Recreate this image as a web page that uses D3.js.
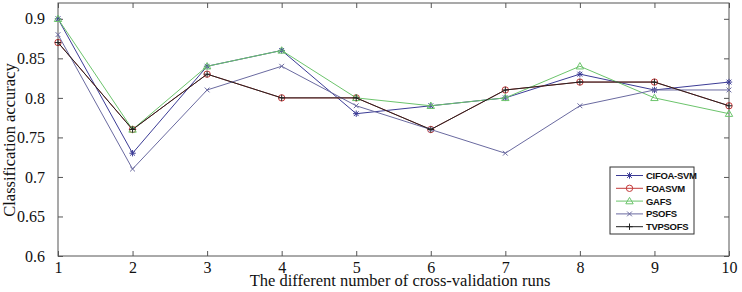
<!DOCTYPE html>
<html>
<head>
<meta charset="utf-8">
<script src="https://cdn.jsdelivr.net/npm/d3@7"></script>
<style>
body { margin: 0; background: #fff; }
</style>
</head>
<body>
<script>
// cross-validation runs
var runs = [1, 2, 3, 4, 5, 6, 7, 8, 9, 10];
var yTicks = [0.6, 0.65, 0.7, 0.75, 0.8, 0.85, 0.9];

var cifoaSvm = [0.90, 0.73, 0.84, 0.86, 0.78, 0.79, 0.80, 0.83, 0.81, 0.82];
var foaSvm   = [0.87, 0.76, 0.83, 0.80, 0.80, 0.76, 0.81, 0.82, 0.82, 0.79];
var gafs     = [0.90, 0.76, 0.84, 0.86, 0.80, 0.79, 0.80, 0.84, 0.80, 0.78];
var psofs    = [0.88, 0.71, 0.81, 0.84, 0.79, 0.76, 0.73, 0.79, 0.81, 0.81];
var tvpsofs  = [0.87, 0.76, 0.83, 0.80, 0.80, 0.76, 0.81, 0.82, 0.82, 0.79];

var seriesNames = ["CIFOA-SVM", "FOASVM", "GAFS", "PSOFS", "TVPSOFS"];

function init(){
    var W = 742, H = 292;
    var left = 58, right = 729, top = 3, bottom = 256;

    var series = [
        {name: seriesNames[0], values: cifoaSvm, color: "#3c3c96", marker: "star"},
        {name: seriesNames[1], values: foaSvm,   color: "#c43a3a", marker: "circle"},
        {name: seriesNames[2], values: gafs,     color: "#6cc46c", marker: "triangle"},
        {name: seriesNames[3], values: psofs,    color: "#6a6aa0", marker: "x"},
        {name: seriesNames[4], values: tvpsofs,  color: "#222222", marker: "plus"}
    ];

    var svg = d3.select("body").append("svg")
        .attr("width", W)
        .attr("height", H);

    var xScale = d3.scaleLinear().domain([1, 10]).range([left, right]);
    var yScale = d3.scaleLinear().domain([0.6, 0.92]).range([bottom, top]);

    // frame
    svg.append("rect")
        .attr("x", left).attr("y", top)
        .attr("width", right - left).attr("height", bottom - top)
        .attr("fill", "none").attr("stroke", "#555").attr("stroke-width", 1);

    var fmt = function(d){ return String(+d.toFixed(2)); };

    // axes with inward ticks
    var xAxis = d3.axisBottom(xScale).tickValues(runs).tickSize(-5).tickPadding(6).tickFormat(d3.format("d"));
    var xTop = d3.axisTop(xScale).tickValues(runs).tickSize(-5).tickFormat("");
    var yAxis = d3.axisLeft(yScale).tickValues(yTicks).tickSize(-5).tickPadding(13).tickFormat(fmt);
    var yRight = d3.axisRight(yScale).tickValues(yTicks).tickSize(-5).tickFormat("");

    function styleAxis(g){
        g.select(".domain").remove();
        g.selectAll(".tick line").attr("stroke", "#555");
        g.selectAll("text")
            .attr("font-family", "'Liberation Serif', 'Times New Roman', serif")
            .attr("font-size", "16px")
            .attr("fill", "#111");
    }

    svg.append("g").attr("transform", "translate(0," + bottom + ")").call(xAxis).call(styleAxis);
    svg.append("g").attr("transform", "translate(0," + top + ")").call(xTop).call(styleAxis);
    svg.append("g").attr("transform", "translate(" + left + ",0)").call(yAxis).call(styleAxis);
    svg.append("g").attr("transform", "translate(" + right + ",0)").call(yRight).call(styleAxis);

    // axis titles
    svg.append("text")
        .attr("x", 400).attr("y", 286)
        .attr("text-anchor", "middle")
        .attr("font-family", "'Liberation Serif', 'Times New Roman', serif")
        .attr("font-size", "16.5px").attr("fill", "#111")
        .text("The different number of cross-validation runs");

    svg.append("text")
        .attr("transform", "translate(15,140) rotate(-90)")
        .attr("text-anchor", "middle")
        .attr("font-family", "'Liberation Serif', 'Times New Roman', serif")
        .attr("font-size", "16.5px").attr("fill", "#111")
        .text("Classification accuracy");

    var line = d3.line()
        .x(function(d, i){ return xScale(runs[i]); })
        .y(function(d){ return yScale(d); });

    function drawMarker(g, type, x, y, color){
        var s = 3.2;
        if (type === "circle") {
            g.append("circle").attr("cx", x).attr("cy", y).attr("r", s)
                .attr("fill", "none").attr("stroke", color).attr("stroke-width", 1);
        } else if (type === "triangle") {
            g.append("path")
                .attr("d", "M" + x + "," + (y - s - 0.5) + "L" + (x + s + 0.5) + "," + (y + s - 0.5) + "L" + (x - s - 0.5) + "," + (y + s - 0.5) + "Z")
                .attr("fill", "none").attr("stroke", color).attr("stroke-width", 1);
        } else {
            var p = "";
            if (type === "plus" || type === "star") {
                p += "M" + (x - s) + "," + y + "L" + (x + s) + "," + y;
                p += "M" + x + "," + (y - s) + "L" + x + "," + (y + s);
            }
            if (type === "x" || type === "star") {
                var k = s * 0.75;
                p += "M" + (x - k) + "," + (y - k) + "L" + (x + k) + "," + (y + k);
                p += "M" + (x - k) + "," + (y + k) + "L" + (x + k) + "," + (y - k);
            }
            g.append("path").attr("d", p).attr("fill", "none").attr("stroke", color).attr("stroke-width", 1);
        }
    }

    // draw series
    series.forEach(function(s){
        var g = svg.append("g");
        g.append("path")
            .datum(s.values)
            .attr("d", line)
            .attr("fill", "none")
            .attr("stroke", s.color)
            .attr("stroke-width", 1);
        s.values.forEach(function(v, i){
            drawMarker(g, s.marker, xScale(runs[i]), yScale(v), s.color);
        });
    });

    // legend
    var lg = svg.append("g");
    lg.append("rect")
        .attr("x", 610).attr("y", 167).attr("width", 84).attr("height", 67)
        .attr("fill", "#fff").attr("stroke", "#333").attr("stroke-width", 1);
    series.forEach(function(s, i){
        var y = 175.5 + i * 12.8;
        lg.append("line")
            .attr("x1", 616).attr("x2", 643).attr("y1", y).attr("y2", y)
            .attr("stroke", s.color).attr("stroke-width", 1);
        drawMarker(lg, s.marker, 629.5, y, s.color);
        lg.append("text")
            .attr("x", 646).attr("y", y + 3.5)
            .attr("font-family", "'Liberation Sans', Arial, sans-serif")
            .attr("font-size", "9.5px").attr("font-weight", "bold")
            .attr("letter-spacing", "-0.3px")
            .attr("fill", "#111")
            .text(s.name);
    });
}
window.onload = init;
</script>
</body>
</html>
